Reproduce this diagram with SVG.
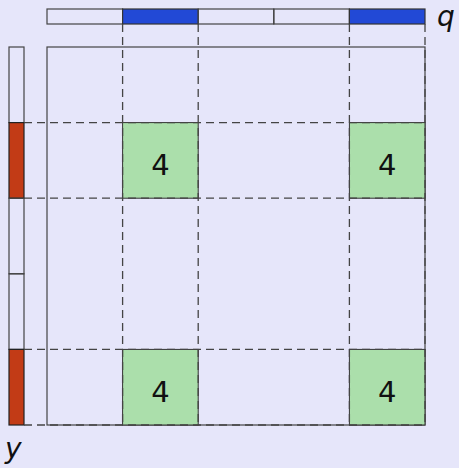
<svg xmlns="http://www.w3.org/2000/svg" width="459" height="468" viewBox="0 0 459 468">
<style>
.cell{fill:none;stroke:#444;stroke-width:1.2}
.blue{fill:#2249d6;stroke:#333;stroke-width:1.2}
.red{fill:#c23b16;stroke:#222;stroke-width:1.2}
.green{fill:#abdfab;stroke:#333;stroke-width:1}
.dash{stroke:#444;stroke-width:1.3;stroke-dasharray:8 5;fill:none}
.num{font-family:"DejaVu Sans",sans-serif;font-size:29px;fill:#111;text-anchor:middle}
.lbl{font-family:"DejaVu Sans",sans-serif;font-style:italic;font-size:28px;fill:#111}
</style>
<rect width="459" height="468" fill="#e6e6fa"/>
<g id="q-bar">
<rect class="cell" x="47" y="9" width="75.6" height="15"/>
<rect class="blue" x="122.6" y="9" width="75.6" height="15"/>
<rect class="cell" x="198.2" y="9" width="75.6" height="15"/>
<rect class="cell" x="273.8" y="9" width="75.6" height="15"/>
<rect class="blue" x="349.4" y="9" width="75.6" height="15"/>
<text class="lbl" x="437" y="26">q</text>
</g>
<g id="y-bar">
<rect class="cell" x="9" y="47" width="15" height="75.6"/>
<rect class="red" x="9" y="122.6" width="15" height="75.6"/>
<rect class="cell" x="9" y="198.2" width="15" height="75.6"/>
<rect class="cell" x="9" y="273.8" width="15" height="75.6"/>
<rect class="red" x="9" y="349.4" width="15" height="75.6"/>
<text class="lbl" x="5" y="458">y</text>
</g>
<g id="matrix">
<rect class="cell" x="47" y="47" width="378" height="378"/>
</g>
<g id="c11"><rect class="green" x="122.6" y="122.6" width="75.6" height="75.6"/><text class="num" x="160.4" y="175">4</text></g>
<g id="c14"><rect class="green" x="349.4" y="122.6" width="75.6" height="75.6"/><text class="num" x="387.2" y="175">4</text></g>
<g id="c41"><rect class="green" x="122.6" y="349.4" width="75.6" height="75.6"/><text class="num" x="160.4" y="402">4</text></g>
<g id="c44"><rect class="green" x="349.4" y="349.4" width="75.6" height="75.6"/><text class="num" x="387.2" y="402">4</text></g>
<g id="connectors">
<line class="dash" x1="122.6" y1="24" x2="122.6" y2="425"/>
<line class="dash" x1="198.2" y1="24" x2="198.2" y2="425"/>
<line class="dash" x1="349.4" y1="24" x2="349.4" y2="425"/>
<line class="dash" x1="425" y1="24" x2="425" y2="425"/>
<line class="dash" x1="24" y1="122.6" x2="425" y2="122.6"/>
<line class="dash" x1="24" y1="198.2" x2="425" y2="198.2"/>
<line class="dash" x1="24" y1="349.4" x2="425" y2="349.4"/>
<line class="dash" x1="24" y1="425" x2="425" y2="425"/>
</g>
</svg>
